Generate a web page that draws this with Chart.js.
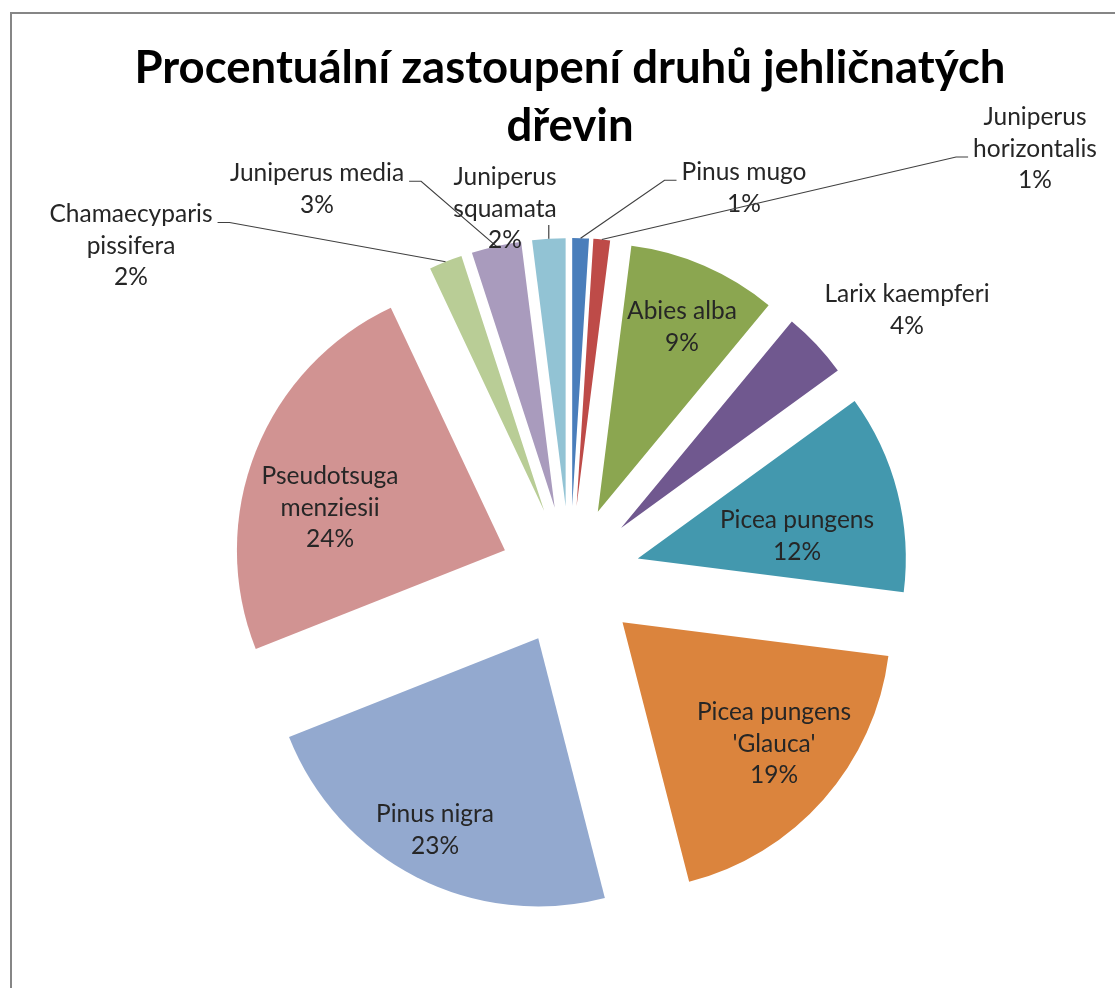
<!DOCTYPE html>
<html>
<head>
<meta charset="utf-8">
<script src="https://cdn.jsdelivr.net/npm/chart.js@4.4.0/dist/chart.umd.min.js"></script>
<style>
  html, body { margin: 0; padding: 0; background: #fff; }
  canvas { display: block; }
</style>
</head>
<body>
<canvas id="graf" width="1115" height="988"></canvas>
<script>
// data
const druhy = ['Pinus mugo', 'Juniperus horizontalis', 'Abies alba', 'Larix kaempferi', 'Picea pungens',
  "Picea pungens 'Glauca'", 'Pinus nigra', 'Pseudotsuga menziesii', 'Chamaecyparis pissifera',
  'Juniperus media', 'Juniperus squamata'];
const procenta = [1, 1, 9, 4, 12, 19, 23, 24, 2, 3, 2];
const barvy = ['#4a7ebb', '#be4b48', '#8ba650', '#70588f', '#4398ae', '#db843d',
  '#93a9cf', '#d19392', '#b9cd96', '#a99bbd', '#92c3d4'];

// zalomeni popisku
const radkyPopisku = [['Pinus mugo'], ['Juniperus', 'horizontalis'], ['Abies alba'], ['Larix kaempferi'],
  ['Picea pungens'], ['Picea pungens', "'Glauca'"], ['Pinus nigra'], ['Pseudotsuga', 'menziesii'],
  ['Chamaecyparis', 'pissifera'], ['Juniperus media'], ['Juniperus', 'squamata']];
// stred popisku vuci stredu kolace
const poziceX = [174, 465, 112, 337, 227, 204, -135, -240, -439, -253, -65];
const poziceY = [-388, -427, -249, -266, -40, 168, 254, -68, -330, -387, -367];
const vodicka = [true, true, false, false, false, false, false, false, true, true, true];

const vybuch = 70;
const pismo = 'Lato, "Noto Sans", sans-serif';

const ramecek = {
  id: 'ramecek',
  beforeDraw(chart) {
    const ctx = chart.ctx;
    ctx.save();
    ctx.strokeStyle = '#868686';
    ctx.lineWidth = 2;
    ctx.strokeRect(11, 13, 1300, 1200);
    ctx.restore();
  }
};

// vysunuti vseci od stredu
const vysunuti = {
  id: 'vysunuti',
  beforeDatasetsDraw(chart) {
    const a = chart.chartArea;
    const cx = (a.left + a.right) / 2, cy = (a.top + a.bottom) / 2;
    chart.getDatasetMeta(0).data.forEach(el => {
      const mid = (el.startAngle + el.endAngle) / 2;
      el.x = cx + Math.cos(mid) * vybuch;
      el.y = cy + Math.sin(mid) * vybuch;
    });
  }
};

const popisky = {
  id: 'popisky',
  afterDatasetsDraw(chart) {
    const ctx = chart.ctx;
    const a = chart.chartArea;
    const cx = (a.left + a.right) / 2, cy = (a.top + a.bottom) / 2;
    const lh = 31.5;
    ctx.save();
    ctx.font = '24.5px ' + pismo;
    ctx.textAlign = 'center';
    ctx.textBaseline = 'middle';
    chart.getDatasetMeta(0).data.forEach((el, i) => {
      const radky = radkyPopisku[i].concat(procenta[i] + '%');
      const lx = cx + poziceX[i], ly = cy + poziceY[i];
      const y0 = ly - (radky.length - 1) * lh / 2;
      if (vodicka[i]) {
        const mid = (el.startAngle + el.endAngle) / 2;
        const ax = el.x + Math.cos(mid) * el.outerRadius;
        const ay = el.y + Math.sin(mid) * el.outerRadius;
        let wi = 0, ww = 0;
        radky.forEach((t, k) => {
          const w = ctx.measureText(t).width;
          if (w > ww) { ww = w; wi = k; }
        });
        ctx.beginPath();
        if (Math.abs(ax - lx) < ww / 2) {
          ctx.moveTo(ax, ly + 16);
          ctx.lineTo(ax, ay);
        } else {
          const s = ax > lx ? 1 : -1;
          const ex = lx + s * (ww / 2 + 5);
          const ry = y0 + wi * lh + 8;
          ctx.moveTo(ex, ry);
          ctx.lineTo(ex + s * 12, ry);
          ctx.lineTo(ax, ay);
        }
        ctx.strokeStyle = '#404040';
        ctx.lineWidth = 1.2;
        ctx.stroke();
      }
      ctx.fillStyle = '#262626';
      radky.forEach((t, k) => ctx.fillText(t, lx, y0 + k * lh));
    });
    ctx.restore();
  }
};

new Chart(document.getElementById('graf'), {
  type: 'pie',
  data: {
    labels: druhy,
    datasets: [{ data: procenta, backgroundColor: barvy, borderWidth: 0 }]
  },
  options: {
    responsive: false,
    animation: false,
    events: [],
    radius: 268,
    layout: { padding: { left: 25, top: 0, right: 0, bottom: 0 } },
    plugins: {
      legend: { display: false },
      tooltip: { enabled: false },
      title: {
        display: true,
        text: ['Procentuální zastoupení druhů jehličnatých', 'dřevin'],
        color: '#000',
        font: { family: pismo, size: 45.5, weight: 'bold', lineHeight: '58px' },
        padding: { top: 39, bottom: 9 }
      }
    }
  },
  plugins: [ramecek, vysunuti, popisky]
});
</script>
</body>
</html>
